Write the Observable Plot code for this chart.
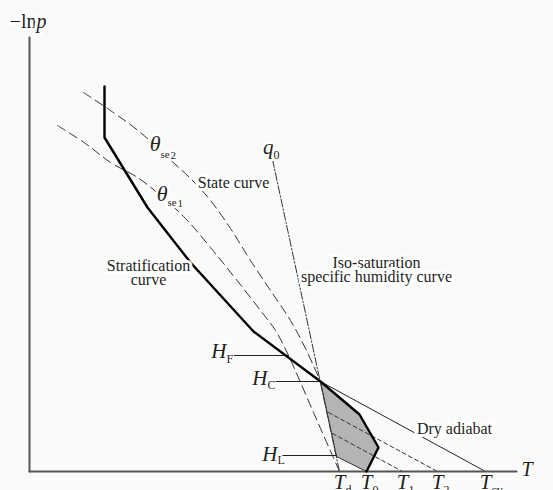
<!DOCTYPE html>
<html>
<head>
<meta charset="utf-8">
<script src="https://cdn.jsdelivr.net/npm/d3@7"></script>
<script src="https://cdn.jsdelivr.net/npm/@observablehq/plot@0.6"></script>
<style>
  html, body { margin: 0; padding: 0; background: #fafafa; overflow: hidden; }
  #chart svg { display: block; }
</style>
</head>
<body>
<div id="chart"></div>
<script>
// Schematic emagram: temperature T to the right, −ln p upward (drawing units).

// Surface temperatures on the T axis
const Td = 339, T0 = 366, T1 = 402, T2 = 437, Tcv = 485;
const surfaceZ = 19;

// Axes
const axisT = [[29, surfaceZ], [516, surfaceZ]];
const axisLnp = [[29, surfaceZ], [29, 453]];

// Stratification (environmental) curve, top to surface
const stratification = [[104, 404], [104, 353], [147, 283], [190, 228], [253, 159],
  [320, 109], [359, 76], [378, 43], [T0, surfaceZ]];

// Pseudo-equivalent potential temperature curves
const thetaSe2 = [[83, 398], [110, 380], [140, 358], [165, 335], [190, 312], [210, 290],
  [230, 262], [250, 230], [270, 200], [290, 170], [305, 142], [320, 109]];
const thetaSe1 = [[57, 365], [85, 347], [110, 328], [137, 313], [160, 295], [185, 272],
  [210, 243], [235, 212], [260, 180], [275, 160], [288, 135], [313, 78], [Td, surfaceZ]];

// Iso-saturation specific humidity line q0
const humidityQ0 = [[272, 331], [Td, surfaceZ]];

// Dry adiabats
const dryAdiabatCv = [[320, 109], [Tcv, surfaceZ]];
const dryAdiabatT1 = [[332, 57], [T1, surfaceZ]];
const dryAdiabatT2 = [[328, 78], [T2, surfaceZ]];

// Shaded region between stratification and q0 line
const shaded = [[320, 109], [359, 76], [378, 43], [T0, surfaceZ], [336, 34], [320, 109]];

// Levels: free convection, condensation, lifting
const levelF = [[232, 135], [288, 135]];
const levelC = [[272, 109], [320, 109]];
const levelL = [[281, 35], [336, 35]];

// Plain text labels, one row per line (centre positions)
const curveLabels = [
  {T: 233, z: 308, text: "State curve"},
  {T: 148, z: 225, text: "Stratification"},
  {T: 148, z: 211, text: "curve"},
  {T: 376, z: 228, text: "Iso-saturation"},
  {T: 376, z: 214, text: "specific humidity curve"},
  {T: 454, z: 62, text: "Dry adiabat"}
];

// Symbol labels: italic letter ending at ax, subscript starting there
const symbolLabels = [
  {ax: 226, zb: 133, zs: 128, main: "H", sub: "F"},
  {ax: 267, zb: 106, zs: 102, main: "H", sub: "C"},
  {ax: 277, zb: 30, zs: 27, main: "H", sub: "L"},
  {ax: 273, zb: 337, zs: 332, main: "q", sub: "0"}
];
const thetaLabels = [
  {ax: 160, zb: 340, zs: 333, main: "θ", sub: "se"},
  {ax: 167, zb: 290, zs: 285, main: "θ", sub: "se"}
];
const thetaIndex = [
  {ax: 170, zs: 332, text: "2"},
  {ax: 177, zs: 284, text: "1"}
];

// Temperature labels under the T axis
const tempLabels = [
  {T: Td, main: "T", sub: "d"},
  {T: T0, main: "T", sub: "0"},
  {T: T1, main: "T", sub: "1"},
  {T: T2, main: "T", sub: "2"},
  {T: Tcv, main: "T", sub: "cv"}
];

const ink = "#1e1e1e";
const serif = "Liberation Serif, Times New Roman, serif";
const halo = (w) => ({fill: ink, stroke: "white", strokeWidth: w, strokeLinejoin: "miter"});

const chart = Plot.plot({
  width: 553,
  height: 490,
  margin: 0,
  x: {domain: [0, 553], axis: null},
  y: {domain: [0, 490], axis: null},
  style: {background: "#fafafa", fontFamily: serif, overflow: "visible"},
  marks: [
    Plot.line(shaded, {fill: "#b4b4b4", stroke: "#333", strokeWidth: 1}),
    Plot.line(thetaSe2, {curve: "catmull-rom", stroke: "#333", strokeWidth: 1, strokeDasharray: "9,5"}),
    Plot.line(thetaSe1, {curve: "catmull-rom", stroke: "#333", strokeWidth: 1, strokeDasharray: "9,5"}),
    Plot.line(humidityQ0, {stroke: "#333", strokeWidth: 1, strokeDasharray: "8,2,1.5,2"}),
    Plot.line(dryAdiabatCv, {stroke: "#222", strokeWidth: 1}),
    Plot.line(dryAdiabatT1, {stroke: "#333", strokeWidth: 1, strokeDasharray: "4,3"}),
    Plot.line(dryAdiabatT2, {stroke: "#333", strokeWidth: 1, strokeDasharray: "4,3"}),
    Plot.line(levelF, {stroke: "#222", strokeWidth: 1}),
    Plot.line(levelC, {stroke: "#222", strokeWidth: 1}),
    Plot.line(levelL, {stroke: "#222", strokeWidth: 1}),
    Plot.line(axisLnp, {stroke: "#555", strokeWidth: 2}),
    Plot.line(axisT, {stroke: "#555", strokeWidth: 2}),
    Plot.line(stratification, {stroke: "#000", strokeWidth: 2.4, strokeLinejoin: "miter"}),

    Plot.text(curveLabels, {x: "T", y: "z", text: "text", fontSize: 16, ...halo(6)}),

    Plot.text(symbolLabels, {x: "ax", y: "zb", text: "main", textAnchor: "end", lineAnchor: "bottom",
      fontSize: 21, fontStyle: "italic", ...halo(4)}),
    Plot.text(symbolLabels, {x: "ax", y: "zs", text: "sub", textAnchor: "start", lineAnchor: "bottom",
      fontSize: 12, ...halo(2)}),
    Plot.text(thetaLabels, {x: "ax", y: "zb", text: "main", textAnchor: "end", lineAnchor: "bottom",
      fontSize: 22, fontStyle: "italic", ...halo(5)}),
    Plot.text(thetaLabels, {x: "ax", y: "zs", text: "sub", textAnchor: "start", lineAnchor: "bottom",
      fontSize: 11, ...halo(4)}),
    Plot.text(thetaIndex, {x: "ax", y: "zs", text: "text", textAnchor: "start", lineAnchor: "bottom",
      fontSize: 11, ...halo(3)}),

    Plot.text(tempLabels, {x: "T", y: () => 2, text: "main", textAnchor: "end", lineAnchor: "bottom",
      dx: 6, fontSize: 21, fontStyle: "italic", ...halo(3)}),
    Plot.text(tempLabels, {x: "T", y: () => -3, text: "sub", textAnchor: "start", lineAnchor: "bottom",
      dx: 6, fontSize: 12, ...halo(2)}),

    // Axis titles
    Plot.text([{T: 532, z: 15, text: "T"}], {x: "T", y: "z", text: "text", textAnchor: "end",
      lineAnchor: "bottom", fontSize: 20, fontStyle: "italic", ...halo(4)}),
    Plot.text([{T: 36, z: 463, text: "−ln"}], {x: "T", y: "z", text: "text", textAnchor: "end",
      lineAnchor: "bottom", fontSize: 20, ...halo(6)}),
    Plot.text([{T: 36, z: 463, text: "p"}], {x: "T", y: "z", text: "text", textAnchor: "start",
      lineAnchor: "bottom", fontSize: 20, fontStyle: "italic", ...halo(6)})
  ]
});

document.getElementById("chart").append(chart);
</script>
</body>
</html>
